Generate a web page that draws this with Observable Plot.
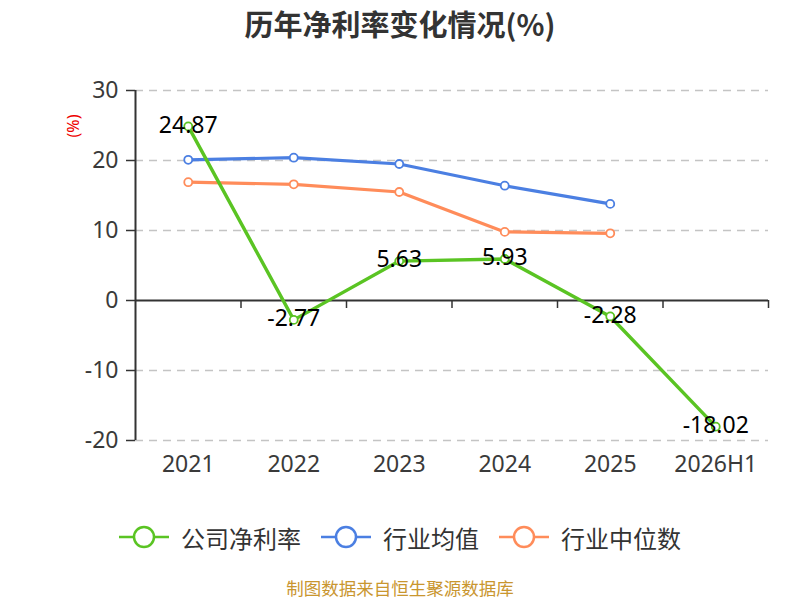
<!DOCTYPE html>
<html>
<head>
<meta charset="utf-8">
<script src="https://cdn.jsdelivr.net/npm/d3@7"></script>
<script src="https://cdn.jsdelivr.net/npm/@observablehq/plot@0.6"></script>
<style>
  html, body { margin: 0; padding: 0; background: #fff; }
  #wrap { position: relative; width: 800px; height: 600px; overflow: hidden;
          font-family: "Noto Sans", "Noto Sans CJK SC", sans-serif; }
  #title { position: absolute; top: 0; left: 0; width: 800px; text-align: center;
           font-family: "Noto Sans CJK SC", sans-serif; font-weight: bold; font-size: 29px;
           line-height: 46px; color: #333; }
  #chart { position: absolute; top: 50px; left: 0; }
  #unit { position: absolute; left: 64px; top: 114px; width: 18px; height: 24px; }
  #unit span { position: absolute; left: 50%; top: 50%; transform: translate(-50%, -50%) rotate(-90deg);
               color: #e00; font-size: 16px; white-space: nowrap; }
  #legend { position: absolute; top: 520px; left: 0; width: 800px; height: 34px;
            display: flex; justify-content: center; align-items: center;
            font-family: "Noto Sans CJK SC", sans-serif; font-size: 24px; color: #333; }
  .item { display: flex; align-items: center; margin: 0 10px; }
  .item svg { margin-right: 12px; }
  #caption { position: absolute; top: 577px; left: 0; width: 800px; height: 22px; text-align: center;
             font-family: "Noto Sans CJK SC", sans-serif; font-size: 17.5px; line-height: 22px; color: #c9962f; }
</style>
</head>
<body>
<div id="wrap">
  <div id="title">历年净利率变化情况(%)</div>
  <div id="unit"><span>(%)</span></div>
  <div id="chart"></div>
  <div id="legend"></div>
  <div id="caption">制图数据来自恒生聚源数据库</div>
</div>
<script>
const categories = ["2021", "2022", "2023", "2024", "2025", "2026H1"];
const companyRate = [24.87, -2.77, 5.63, 5.93, -2.28, -18.02];
const industryAvg = [20.1, 20.4, 19.5, 16.4, 13.8];
const industryMedian = [16.9, 16.6, 15.5, 9.8, 9.6];
const yTicks = [30, 20, 10, 0, -10, -20];
const seriesNames = ["公司净利率", "行业均值", "行业中位数"];
const seriesColors = ["#5ac423", "#4b7fe2", "#ff8c5a"];

const toRows = (vals, name) => vals.map((v, i) => ({cat: categories[i], pos: i + 0.5, value: v, series: name}));
const company = toRows(companyRate, seriesNames[0]);
const avg = toRows(industryAvg, seriesNames[1]);
const median = toRows(industryMedian, seriesNames[2]);
const centers = categories.map((c, i) => i + 0.5);
const edges = categories.map((c, i) => i + 1);

const chart = Plot.plot({
  width: 800,
  height: 450,
  marginTop: 40,
  marginBottom: 60,
  marginLeft: 135,
  marginRight: 32,
  x: {type: "linear", domain: [0, categories.length], axis: null},
  y: {domain: [-20, 30], axis: null},
  style: {fontFamily: "'Noto Sans', 'Noto Sans CJK SC', sans-serif", fontSize: "23px", color: "#3a3a3a", background: "transparent"},
  marks: [
    Plot.gridY(yTicks.filter(d => d !== 0), {stroke: "#c4c4c4", strokeOpacity: 1, strokeWidth: 1.3, strokeDasharray: "8,6"}),
    Plot.ruleY([0], {stroke: "#333", strokeWidth: 2}),
    Plot.ruleX([0], {stroke: "#333", strokeWidth: 2}),
    Plot.ruleX(edges, {x: d => d, y1: 0, y2: 0, insetBottom: -8, stroke: "#333", strokeWidth: 1.5}),
    Plot.axisY({ticks: yTicks, label: null, tickSize: 9, tickPadding: 8, fontSize: 23, stroke: "#333", strokeWidth: 1.5, tickFormat: d => String(d)}),
    Plot.axisX({ticks: centers, label: null, tickSize: 0, tickPadding: 15, fontSize: 23, tickFormat: d => categories[Math.round(d - 0.5)]}),
    Plot.line(avg, {x: "pos", y: "value", stroke: seriesColors[1], strokeWidth: 3.2}),
    Plot.line(median, {x: "pos", y: "value", stroke: seriesColors[2], strokeWidth: 3.2}),
    Plot.dot(avg, {x: "pos", y: "value", r: 4, fill: "#fff", stroke: seriesColors[1], strokeWidth: 1.8}),
    Plot.dot(median, {x: "pos", y: "value", r: 4, fill: "#fff", stroke: seriesColors[2], strokeWidth: 1.8}),
    Plot.line(company, {x: "pos", y: "value", stroke: seriesColors[0], strokeWidth: 3.4}),
    Plot.dot(company, {x: "pos", y: "value", r: 4, fill: "#fff", stroke: seriesColors[0], strokeWidth: 1.8}),
    Plot.text(company, {x: "pos", y: "value", text: d => d.value.toFixed(2), fill: "#000", fontSize: 23, dy: -1})
  ]
});
document.getElementById("chart").appendChild(chart);

const legend = document.getElementById("legend");
seriesNames.forEach((name, i) => {
  const item = document.createElement("div");
  item.className = "item";
  const c = seriesColors[i];
  item.innerHTML = `<svg width="50" height="26" viewBox="0 0 50 26"><line x1="0" y1="13" x2="50" y2="13" stroke="${c}" stroke-width="2.5"/><circle cx="25" cy="13" r="10" fill="#fff" stroke="${c}" stroke-width="2.5"/></svg><span>${name}</span>`;
  legend.appendChild(item);
});
</script>
</body>
</html>
